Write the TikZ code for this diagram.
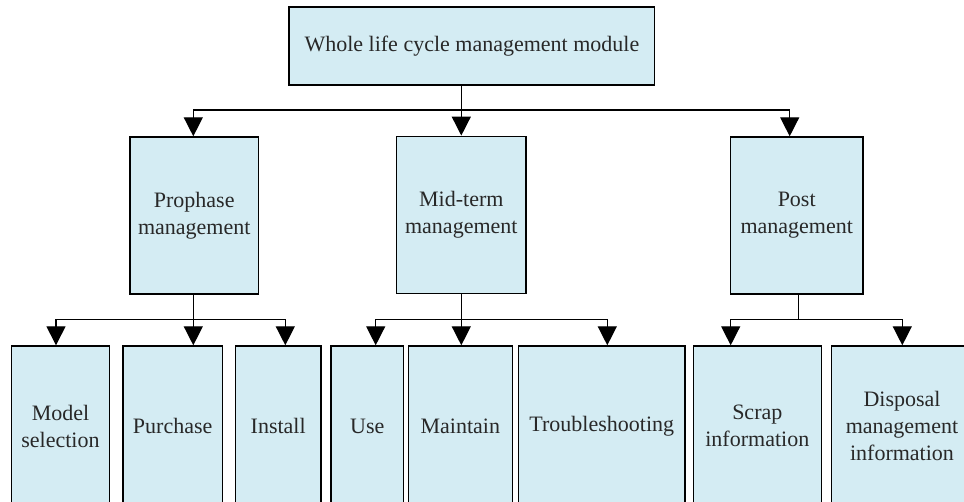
\documentclass[tikz,border=0pt]{standalone}
\usepackage{fontspec}
\setmainfont{Liberation Serif}
\usetikzlibrary{arrows.meta}
\definecolor{boxfill}{RGB}{212,236,243}
\definecolor{txt}{RGB}{40,40,40}
\begin{document}
\begin{tikzpicture}[x=1pt,y=-1pt,
  box/.style={draw=black,line width=1.4pt,fill=boxfill,inner sep=0pt,
    text=txt,align=center,font=\fontsize{22}{27}\selectfont},
  conn/.style={line width=1.4pt,draw=black},
  arr/.style={conn,-{Triangle[length=19pt,width=19pt]}}]
\useasboundingbox (0,0) rectangle (964,502);
\clip (0,0) rectangle (964,502);
% top
\node[box,minimum width=365.7pt,minimum height=78pt] (top) at (471.9,46) {Whole life cycle management module};
% level 2
\node[box,minimum width=128.3pt,minimum height=157pt] (pro) at (194.2,215.5) {Prophase\\management};
\node[box,minimum width=129.3pt,minimum height=157pt] (mid) at (461.3,214.8) {Mid-term\\management};
\node[box,minimum width=132.7pt,minimum height=157pt] (post) at (796.7,215.5) {Post\\management};
% level 3
\node[box,minimum width=97.6pt,minimum height=160pt] (model) at (60.5,426) {Model\\selection};
\node[box,minimum width=99.3pt,minimum height=160pt] (pur) at (172.7,426) {Purchase};
\node[box,minimum width=85.7pt,minimum height=160pt] (inst) at (278.2,426) {Install};
\node[box,minimum width=72.7pt,minimum height=160pt] (use) at (367.3,426) {Use};
\node[box,minimum width=104pt,minimum height=160pt] (main) at (460.3,426) {Maintain};
\node[box,minimum width=166.3pt,minimum height=160pt] (trou) at (601.8,426) {Troubleshooting};
\node[box,minimum width=128pt,minimum height=160pt] (scrap) at (757.3,426) {Scrap\\information};
\node[box,minimum width=141.4pt,minimum height=160pt] (disp) at (902,426) {Disposal\\management\\information};
% junctions
\coordinate (j0) at (461.3,110);
\coordinate (j1) at (193.3,319.3);
\coordinate (j2) at (461.3,319.3);
\coordinate (j3) at (798.3,319.3);
% top connectors
\draw[conn] (top.south -| j0) -- (j0);
\draw[arr] (j0) -| (pro.north -| 193.3,0);
\draw[arr] (j0) -- (mid.north -| j0);
\draw[arr] (j0) -| (post.north -| 789.7,0);
% prophase
\draw[conn] (pro.south -| j1) -- (j1);
\draw[arr] (j1) -| (model.north -| 56,0);
\draw[arr] (j1) -- (pur.north -| j1);
\draw[arr] (j1) -| (inst.north -| 285.3,0);
% mid-term
\draw[conn] (mid.south -| j2) -- (j2);
\draw[arr] (j2) -| (use.north -| 375.7,0);
\draw[arr] (j2) -- (main.north -| j2);
\draw[arr] (j2) -| (trou.north -| 607.3,0);
% post
\draw[conn] (post.south -| j3) -- (j3);
\draw[arr] (j3) -| (scrap.north -| 730.7,0);
\draw[arr] (j3) -| (disp.north -| 902.3,0);
\end{tikzpicture}
\end{document}
